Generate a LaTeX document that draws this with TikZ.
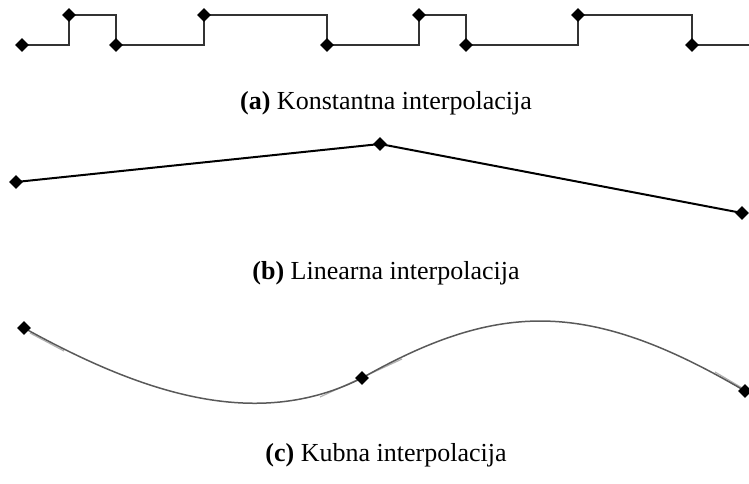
\documentclass[tikz,border=0pt]{standalone}
\usepackage{fontspec}
\setmainfont{Liberation Serif}
\usetikzlibrary{shapes.geometric}
\begin{document}
\begin{tikzpicture}[x=1pt,y=-1pt,
  knot/.style={diamond,fill=black,draw=none,inner sep=0pt,minimum size=14pt},
  stepline/.style={line width=1.8pt,color=black!80},
  linline/.style={line width=2pt,color=black},
  cubline/.style={line width=1.5pt,color=black!65},
  tangline/.style={line width=1.2pt,color=black!30},
  caption/.style={font=\fontsize{26}{30}\selectfont,inner sep=0pt}]
\useasboundingbox (0,0) rectangle (749,484);
% (a) constant
\coordinate (p0) at (22,45);
\coordinate (p1) at (69,15);
\coordinate (p2) at (116,45);
\coordinate (p3) at (204,15);
\coordinate (p4) at (327,45);
\coordinate (p5) at (419,15);
\coordinate (p6) at (466,45);
\coordinate (p7) at (578,15);
\coordinate (p8) at (692,45);
\coordinate (pe) at (752,45);
\draw[stepline] (p0) -| (p1) -| (p2) -| (p3) -| (p4) -| (p5) -| (p6) -| (p7) -| (p8) -- (pe);
\foreach \i in {0,...,8} \node[knot] (k\i) at (p\i) {};
\node[caption] (capa) at (386,103) {\textbf{(a)} Konstantna interpolacija};
% (b) linear
\node[knot] (l0) at (16,182) {};
\node[knot] (l1) at (380,144) {};
\node[knot] (l2) at (742,213) {};
\draw[linline] (l0.center) -- (l1.center) -- (l2.center);
\node[caption] (capb) at (386,273) {\textbf{(b)} Linearna interpolacija};
% (c) cubic
\coordinate (c0) at (24,328);
\coordinate (c1) at (362,378);
\coordinate (c2) at (745,391);
\coordinate (t0a) at (30,333);
\coordinate (t0b) at (64,351);
\coordinate (t1a) at (320,397);
\coordinate (t1b) at (402,359);
\coordinate (t2a) at (715,372);
\coordinate (t2b) at (749,392);
\draw[tangline] (t0a) -- (t0b);
\draw[tangline] (t1a) -- (t1b);
\draw[tangline] (t2a) -- (t2b);
\draw[cubline] (c0) .. controls (140,392) and (255,432) .. (c1)
  .. controls (500,300) and (590,300) .. (c2);
\node[knot] (m0) at (c0) {};
\node[knot] (m1) at (c1) {};
\node[knot] (m2) at (c2) {};
\node[caption] (capc) at (386,455) {\textbf{(c)} Kubna interpolacija};
\end{tikzpicture}
\end{document}
